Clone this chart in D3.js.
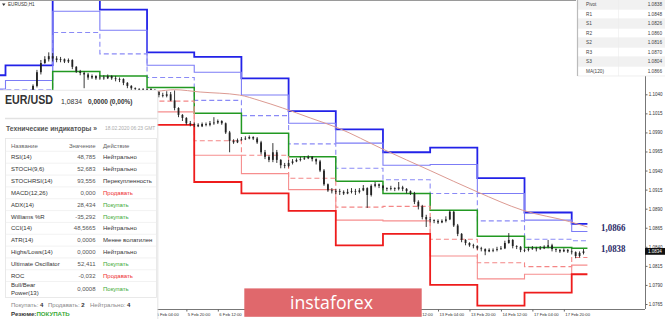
<!DOCTYPE html>
<html><head><meta charset="utf-8">
<script src="https://cdn.jsdelivr.net/npm/d3@7"></script>
<style>
body{margin:0;background:#fff;}
svg{display:block;font-family:"Liberation Sans",Arial,sans-serif;}
</style>
</head><body>
<svg id="c" width="665" height="319"></svg>
<script>
// ---------- DATA ----------
// daily pivot periods (trading hours since 31 Jan 00:00, weekends removed)
const levelDays  = ["30 Jan","31 Jan","3 Feb","4 Feb","5 Feb","6 Feb","7 Feb","10 Feb","11 Feb","12 Feb","13 Feb","14 Feb","17 Feb","18 Feb"];
const levelHours = [-24,0,24,48,72,96,120,144,168,192,216,240,264,288];
const levelEndHour = 296;
const pivotR3 = [1.1065,1.1078,1.1200,1.1151,1.1095,1.1089,1.1061,1.1018,1.0994,1.0964,1.0970,1.0930,1.0885,1.0870];
const pivotR2 = [1.1047,1.1058,1.1149,1.1124,1.1078,1.1069,1.1039,1.1002,1.0976,1.0947,1.0948,1.0910,1.0875,1.0860];
const pivotR1 = [1.1046,1.1046,1.1121,1.1093,1.1062,1.1032,1.1012,1.0975,1.0943,1.0928,1.0910,1.0874,1.0850,1.0848];
const pivotP  = [1.1032,1.1027,1.1070,1.1064,1.1049,1.1015,1.0989,1.0958,1.0926,1.0910,1.0888,1.0854,1.0839,1.0838];
const pivotS1 = [1.1016,1.1009,1.1042,1.1034,1.1031,1.0979,1.0960,1.0930,1.0892,1.0893,1.0850,1.0819,1.0814,1.0826];
const pivotS2 = [1.1003,1.0996,1.0991,1.1005,1.1017,1.0960,1.0936,1.0915,1.0875,1.0874,1.0828,1.0798,1.0804,1.0816];
const pivotS3 = [1.0986,1.0977,1.0963,1.0974,1.1000,1.0925,1.0910,1.0887,1.0842,1.0857,1.0790,1.0763,1.0780,1.0804];

// MA(120)
const maHours  = [40,60,77,86,99,119,129,141,155,169,192,216,240,263,287,296];
const maValues = [1.1040,1.1042,1.1044,1.1046,1.1043,1.1039,1.1032,1.1022,1.1009,1.0996,1.0968,1.0940,1.0912,1.0888,1.0873,1.0866];

// price bars (2-hour bars from hour 8 of 31 Jan)
const barStartHour = 8, barStepHours = 2;
const barClose = [
1.1032,1.1036,1.1039,1.1051,1.1069,1.1081,1.1086,1.1090,
1.1087,1.1085,1.1086,1.1083,1.1085,1.1076,1.1070,1.1068,1.1066,1.1062,1.1064,1.1061,
1.1062,1.1061,1.1064,1.1061,1.1060,1.1060,1.1055,1.1051,1.1048,1.1047,1.1047,1.1047,
1.1047,1.1045,1.1043,1.1039,1.1038,1.1040,1.1032,1.1022,1.1013,1.1009,1.1002,1.1001,
1.1000,1.0998,1.1001,1.1000,1.1002,1.1003,1.1005,1.1002,1.0990,1.0979,1.0977,1.0980,
1.0981,1.0982,1.0984,1.0982,1.0977,1.0964,1.0958,1.0954,1.0964,1.0954,1.0947,1.0946,
1.0950,1.0952,1.0954,1.0955,1.0956,1.0958,1.0955,1.0952,1.0940,1.0922,1.0914,1.0913,
1.0913,1.0912,1.0910,1.0912,1.0913,1.0912,1.0914,1.0917,1.0908,1.0920,1.0922,1.0920,
1.0917,1.0916,1.0917,1.0916,1.0918,1.0916,1.0913,1.0910,1.0899,1.0893,1.0879,1.0876,
1.0875,1.0874,1.0872,1.0874,1.0876,1.0886,1.0868,1.0857,1.0849,1.0845,1.0842,1.0841,
1.0838,1.0837,1.0834,1.0836,1.0836,1.0837,1.0838,1.0845,1.0849,1.0841,1.0840,1.0836,
1.0836,1.0837,1.0838,1.0837,1.0838,1.0840,1.0842,1.0837,1.0836,1.0834,1.0836,1.0834,
1.0833,1.0828,1.0832,1.0834];
const barHigh = [
1.1038,1.1040,1.1043,1.1053,1.1072,1.1085,1.1090,1.1095,
1.1094,1.1090,1.1089,1.1087,1.1087,1.1086,1.1077,1.1072,1.1070,1.1068,1.1066,1.1065,
1.1065,1.1065,1.1066,1.1065,1.1064,1.1062,1.1061,1.1056,1.1052,1.1049,1.1048,1.1048,
1.1048,1.1048,1.1047,1.1044,1.1042,1.1044,1.1043,1.1045,1.1023,1.1014,1.1010,1.1005,
1.1003,1.1002,1.1003,1.1003,1.1005,1.1010,1.1007,1.1006,1.1003,1.0992,1.0981,1.0982,
1.0984,1.0985,1.0986,1.0985,1.0984,1.0979,1.0967,1.0960,1.0976,1.0967,1.0955,1.0950,
1.0954,1.0955,1.0956,1.0958,1.0959,1.0960,1.0959,1.0956,1.0954,1.0942,1.0923,1.0917,
1.0916,1.0916,1.0914,1.0916,1.0917,1.0916,1.0917,1.0921,1.0918,1.0922,1.0925,1.0923,
1.0921,1.0918,1.0920,1.0918,1.0925,1.0920,1.0917,1.0914,1.0912,1.0901,1.0895,1.0882,
1.0879,1.0876,1.0876,1.0876,1.0880,1.0888,1.0887,1.0870,1.0858,1.0850,1.0846,1.0844,
1.0842,1.0840,1.0838,1.0838,1.0838,1.0840,1.0841,1.0848,1.0858,1.0850,1.0842,1.0841,
1.0838,1.0840,1.0841,1.0840,1.0841,1.0842,1.0849,1.0844,1.0838,1.0837,1.0838,1.0837,
1.0837,1.0834,1.0834,1.0837];
const barLow = [
1.1028,1.1031,1.1034,1.1038,1.1049,1.1066,1.1080,1.1083,
1.1083,1.1082,1.1082,1.1081,1.1081,1.1073,1.1068,1.1065,1.1048,1.1059,1.1060,1.1059,
1.1059,1.1059,1.1060,1.1059,1.1057,1.1056,1.1052,1.1048,1.1045,1.1045,1.1044,1.1044,
1.1044,1.1043,1.1040,1.1036,1.1036,1.1036,1.1031,1.1019,1.1010,1.1005,1.1000,1.0998,
1.0997,1.0997,1.0997,1.0998,1.0998,1.1000,1.1001,1.1000,1.0988,1.0964,1.0975,1.0976,
1.0979,1.0980,1.0981,1.0980,1.0975,1.0961,1.0955,1.0951,1.0951,1.0950,1.0943,1.0943,
1.0944,1.0948,1.0951,1.0952,1.0954,1.0955,1.0952,1.0948,1.0938,1.0920,1.0912,1.0910,
1.0909,1.0908,1.0908,1.0909,1.0910,1.0908,1.0910,1.0913,1.0891,1.0906,1.0918,1.0917,
1.0914,1.0913,1.0914,1.0913,1.0914,1.0913,1.0910,1.0908,1.0896,1.0889,1.0876,1.0866,
1.0872,1.0871,1.0870,1.0871,1.0872,1.0875,1.0866,1.0854,1.0846,1.0842,1.0840,1.0838,
1.0836,1.0834,1.0829,1.0833,1.0833,1.0834,1.0836,1.0837,1.0844,1.0838,1.0837,1.0833,
1.0833,1.0834,1.0836,1.0834,1.0836,1.0837,1.0838,1.0834,1.0833,1.0832,1.0833,1.0832,
1.0830,1.0825,1.0826,1.0830];
const lastPrice = 1.0834;

// axes
const yTickValues = [1.1040,1.1015,1.0990,1.0965,1.0940,1.0915,1.0890,1.0865,1.0840,1.0815,1.0790,1.0765];
const xTickHours  = [76,92,108,124,140,156,172,188,204,220,236,252,268,284];
const xTickLabels = ["5 Feb 04:00","5 Feb 20:00","6 Feb 12:00","7 Feb 04:00","7 Feb 20:00","10 Feb 12:00","11 Feb 04:00","11 Feb 20:00","12 Feb 12:00","13 Feb 04:00","13 Feb 20:00","14 Feb 12:00","17 Feb 04:00","17 Feb 20:00"];

// pivot table (top right)
const tableLabels = ["Pivot","R1","S1","R2","S2","R3","S3","MA(120)"];
const tableValues = ["1.0838","1.0848","1.0826","1.0860","1.0816","1.0870","1.0804","1.0866"];

// technical indicators panel
const indNames   = ["RSI(14)","STOCH(9,6)","STOCHRSI(14)","MACD(12,26)","ADX(14)","Williams %R","CCI(14)","ATR(14)","Highs/Lows(14)","Ultimate Oscillator","ROC","Bull/Bear|Power(13)"];
const indValues  = ["48,785","52,683","93,556","0,000","28,434","-35,292","48,5665","0,0006","0,0000","52,411","-0,032","0,0008"];
const indActions = ["Нейтрально","Нейтрально","Перекупленность","Продавать","Покупать","Покупать","Нейтрально","Менее волатилен","Нейтрально","Покупать","Продавать","Покупать"];
const summaryLabels = ["Покупать:","Продавать:","Нейтрально:"];
const summaryCounts = [4,2,4];

// ---------- DRAW ----------
const svg = d3.select("#c");
const PR = 645, PB = 309;
const x = d3.scaleLinear().domain([0,294]).range([5.5,583.5]);
const y = d3.scaleLinear().domain([1.0765,1.1040]).range([304,94.3]);

svg.append("defs").append("clipPath").attr("id","plot")
  .append("rect").attr("x",0).attr("y",1).attr("width",PR).attr("height",PB-1);
const plot = svg.append("g").attr("clip-path","url(#plot)");

// pivot levels
const levelStyles = [
  {d:pivotR3,c:"#2222e8",w:1.8},
  {d:pivotR2,c:"#7c7cf6",w:1.1},
  {d:pivotR1,c:"#8a8af6",w:1.1,dash:"5,3"},
  {d:pivotP, c:"#229922",w:1.5},
  {d:pivotS1,c:"#f48686",w:1.1,dash:"5,3"},
  {d:pivotS2,c:"#f68e8e",w:1.1},
  {d:pivotS3,c:"#ee1c1c",w:1.8}
];
const stepLine = d3.line().x(d=>x(d[0])).y(d=>y(d[1])).curve(d3.curveStepAfter);
levelStyles.forEach(s=>{
  const pts = levelHours.map((h,i)=>[h,s.d[i]]);
  pts.push([levelEndHour, s.d[s.d.length-1]]);
  plot.append("path").attr("d",stepLine(pts)).attr("fill","none")
    .attr("stroke",s.c).attr("stroke-width",s.w)
    .attr("stroke-dasharray",s.dash||null);
});

// MA(120)
plot.append("path")
  .attr("d", d3.line().x((d,i)=>x(maHours[i])).y(d=>y(d)).curve(d3.curveMonotoneX)(maValues))
  .attr("fill","none").attr("stroke","#dc9a92").attr("stroke-width",1);

// candles
const bars = barClose.map((c,i)=>({
  h: barStartHour + i*barStepHours,
  o: i>0 ? barClose[i-1] : c,
  c: c, hi: barHigh[i], lo: barLow[i]
}));
const cg = plot.append("g");
cg.selectAll("line").data(bars).join("line")
  .attr("x1",d=>x(d.h)).attr("x2",d=>x(d.h))
  .attr("y1",d=>y(Math.max(d.hi,d.o,d.c))).attr("y2",d=>y(Math.min(d.lo,d.o,d.c)))
  .attr("stroke","#222").attr("stroke-width",0.9);
cg.selectAll("rect").data(bars).join("rect")
  .attr("x",d=>x(d.h)-0.9).attr("width",1.8)
  .attr("y",d=>y(Math.max(d.o,d.c)))
  .attr("height",d=>Math.max(0.8, Math.abs(y(d.o)-y(d.c))))
  .attr("fill","#222");

// frame lines
svg.append("line").attr("x1",0).attr("x2",577).attr("y1",0.5).attr("y2",0.5).attr("stroke","#9a9a9a");
svg.append("line").attr("x1",PR+0.5).attr("x2",PR+0.5).attr("y1",76).attr("y2",PB).attr("stroke","#777");
svg.append("line").attr("x1",0).attr("x2",PR).attr("y1",PB+0.5).attr("y2",PB+0.5).attr("stroke","#777");

// right axis
const yAxis = svg.append("g").attr("transform",`translate(${PR+0.5},0)`)
  .call(d3.axisRight(y).tickValues(yTickValues).tickSize(2).tickPadding(1.2).tickFormat(d3.format(".4f")));
yAxis.select(".domain").remove();
yAxis.selectAll("line").attr("stroke","#666");
yAxis.selectAll("text").attr("font-size",4.5).attr("fill","#333").attr("font-family","Liberation Sans, Arial");

// bottom axis
const xAxis = svg.append("g").attr("transform",`translate(0,${PB+0.5})`)
  .call(d3.axisBottom(x).tickValues(xTickHours).tickSize(2).tickFormat((d,i)=>xTickLabels[i]));
xAxis.select(".domain").remove();
xAxis.selectAll("line").attr("stroke","#666");
xAxis.selectAll("text").attr("text-anchor","start").attr("dx",1).attr("dy",0).attr("y",6.5)
  .attr("font-size",4.2).attr("fill","#333").attr("font-family","Liberation Sans, Arial");

// price box
svg.append("rect").attr("x",PR).attr("y",y(lastPrice)-3.4).attr("width",20).attr("height",6.8).attr("fill","#111");
svg.append("text").attr("x",PR+3).attr("y",y(lastPrice)+1.6).attr("font-size",4.5).attr("fill","#fff").text(d3.format(".4f")(lastPrice));

// level value labels
const fmtComma = v => d3.format(".4f")(v).replace(".",",");
[maValues[maValues.length-1], pivotP[pivotP.length-1]].forEach(v=>{
  svg.append("text").attr("x",601).attr("y",y(v)+3.6)
    .attr("font-family","Liberation Serif, Times New Roman, serif").attr("font-weight","bold")
    .attr("font-size",10.5).attr("fill","#2b2b68")
    .attr("textLength",24.5).attr("lengthAdjust","spacingAndGlyphs").text(fmtComma(v));
});

// top-left symbol label
svg.append("path").attr("d","M2,3.5 L5.5,3.5 L3.75,6 Z").attr("fill","#333");
svg.append("text").attr("x",8).attr("y",6.3).attr("font-size",4.6).attr("fill","#333").text("EURUSD,H1");

// top-right pivot table
const tg = svg.append("g");
tg.append("rect").attr("x",576).attr("y",0).attr("width",89).attr("height",76).attr("fill","#fff");
tableLabels.forEach((l,i)=>{
  const ry = i*9.5;
  tg.append("rect").attr("x",577.5).attr("y",ry).attr("width",87.5).attr("height",9.5)
    .attr("fill", i%2===0 ? "#f1f1f1" : "#fff");
  tg.append("line").attr("x1",577.5).attr("x2",665).attr("y1",ry+9.5).attr("y2",ry+9.5).attr("stroke","#e2e2e2").attr("stroke-width",0.6);
  tg.append("text").attr("x",586).attr("y",ry+6.4).attr("font-size",4.7).attr("fill","#444").text(l);
  tg.append("text").attr("x",662).attr("y",ry+6.4).attr("text-anchor","end").attr("font-size",4.7).attr("fill","#444").text(tableValues[i]);
});
tg.append("line").attr("x1",577.5).attr("x2",577.5).attr("y1",0).attr("y2",76).attr("stroke","#bbb").attr("stroke-width",1.2);
tg.append("line").attr("x1",618.5).attr("x2",618.5).attr("y1",0).attr("y2",76).attr("stroke","#ececec").attr("stroke-width",0.6);

// left indicators panel
const lp = svg.append("g");
lp.append("rect").attr("x",0).attr("y",90).attr("width",157.5).attr("height",229).attr("fill","#fff");
lp.append("line").attr("x1",0).attr("x2",157.5).attr("y1",90.3).attr("y2",90.3).attr("stroke","#e4e4e4").attr("stroke-width",0.8);
lp.append("line").attr("x1",157.8).attr("x2",157.8).attr("y1",90).attr("y2",319).attr("stroke","#dcdcdc").attr("stroke-width",0.8);
lp.append("text").attr("x",5).attr("y",104.3).attr("font-size",12.4).attr("font-weight","bold").attr("fill","#333")
  .attr("textLength",48).attr("lengthAdjust","spacingAndGlyphs").text("EUR/USD");
lp.append("text").attr("x",61).attr("y",103.6).attr("font-size",6.9).attr("fill","#333").text(fmtComma(lastPrice));
lp.append("text").attr("x",88).attr("y",103.6).attr("font-size",6.5).attr("font-weight","bold").attr("fill","#333").text("0,0000 (0,00%)");
lp.append("line").attr("x1",5).attr("x2",157).attr("y1",118.5).attr("y2",118.5).attr("stroke","#e2e2e2").attr("stroke-width",1.6);
lp.append("text").attr("x",6).attr("y",130.6).attr("font-size",7.1).attr("font-weight","bold").attr("fill","#555")
  .attr("textLength",91).attr("lengthAdjust","spacingAndGlyphs").text("Технические индикаторы »");
lp.append("text").attr("x",105).attr("y",130.3).attr("font-size",4.9).attr("fill","#aaa").text("18.02.2020 06:23 GMT");

// indicator table
lp.append("rect").attr("x",5.5).attr("y",138.5).attr("width",151).attr("height",159).attr("fill","none").attr("stroke","#e4e4e4").attr("stroke-width",0.8);
const hdrY = 147.6;
lp.append("text").attr("x",11).attr("y",hdrY).attr("font-size",6.0).attr("fill","#666").text("Название");
lp.append("text").attr("x",95.5).attr("y",hdrY).attr("text-anchor","end").attr("font-size",6.0).attr("fill","#666").text("Значение");
lp.append("text").attr("x",103).attr("y",hdrY).attr("font-size",6.0).attr("fill","#666").text("Действие");
const rowCenter = i => i < 11 ? 157.3 + i*11.84 : 288.5;
const actColor = a => a==="Покупать" ? "#3aaa35" : (a==="Продавать" ? "#ee3030" : "#333");
indNames.forEach((n,i)=>{
  const cy = rowCenter(i);
  const top = i===0 ? 151.3 : (i<11 ? cy-5.92 : 281.5);
  lp.append("line").attr("x1",5.5).attr("x2",156.5).attr("y1",top).attr("y2",top).attr("stroke","#ececec").attr("stroke-width",0.7);
  const parts = n.split("|");
  parts.forEach((p,k)=>{
    lp.append("text").attr("x",11).attr("y",cy+2.1+(k-(parts.length-1)/2)*8).attr("font-size",6.0).attr("fill","#333").text(p);
  });
  lp.append("text").attr("x",95.5).attr("y",cy+2.1).attr("text-anchor","end").attr("font-size",6.0).attr("fill","#555").text(indValues[i]);
  lp.append("text").attr("x",103).attr("y",cy+2.1).attr("font-size",6.0).attr("fill",actColor(indActions[i])).text(indActions[i]);
});

// summary
const sumX = [11,48,90];
summaryLabels.forEach((l,i)=>{
  const t = lp.append("text").attr("x",sumX[i]).attr("y",306.5).attr("font-size",6.0);
  t.append("tspan").attr("fill","#888").text(l+" ");
  t.append("tspan").attr("fill","#333").attr("font-weight","bold").text(summaryCounts[i]);
});
const rz = lp.append("text").attr("x",11).attr("y",315.6).attr("font-size",6.1).attr("font-weight","bold");
rz.append("tspan").attr("fill","#333").text("Резюме:");
rz.append("tspan").attr("fill","#3aaa35").text("ПОКУПАТЬ");

// watermark logo
svg.append("rect").attr("x",244.3).attr("y",288.4).attr("width",177.4).attr("height",28.4).attr("fill","#e0686c");
svg.append("text").attr("x",331.5).attr("y",309.4).attr("text-anchor","middle")
  .attr("font-family","Open Sans, Liberation Sans, sans-serif").attr("font-size",19).attr("fill","#fff")
  .attr("textLength",83).attr("lengthAdjust","spacingAndGlyphs").text("instaforex");
</script>
</body></html>
